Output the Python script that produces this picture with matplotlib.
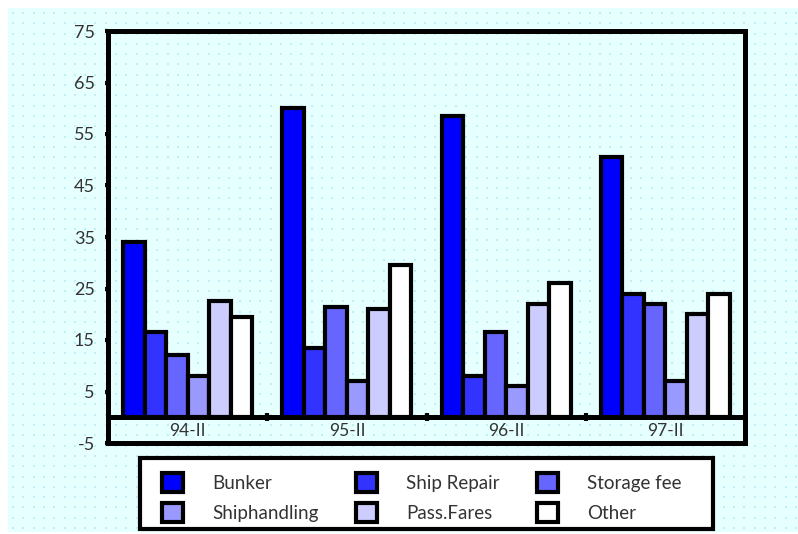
import numpy as np
import matplotlib
matplotlib.use('Agg')
import matplotlib.pyplot as plt
from matplotlib.patches import Rectangle

plt.rcParams['font.family'] = ['Lato', 'DejaVu Sans']

# half-year figures per category
periods = ['94-II', '95-II', '96-II', '97-II']
series_names = ['Bunker', 'Ship Repair', 'Storage fee', 'Shiphandling', 'Pass.Fares', 'Other']
bunker = [34, 60, 58.5, 50.5]
ship_repair = [16.5, 13.5, 8, 24]
storage_fee = [12, 21.5, 16.5, 22]
shiphandling = [8, 7, 6, 7]
pass_fares = [22.5, 21, 22, 20]
other = [19.5, 29.5, 26, 24]
y_ticks = [-5, 5, 15, 25, 35, 45, 55, 65, 75]

series = [bunker, ship_repair, storage_fee, shiphandling, pass_fares, other]
colors = ['#0000FF', '#3333FF', '#6666FF', '#9999FF', '#CCCCFF', '#FFFFFF']
text_color = '#333333'
W, H = 798, 534

fig = plt.figure(figsize=(W / 100, H / 100), dpi=100)
fig.patch.set_facecolor('white')

# dotted cyan backdrop
bg = fig.add_axes([8 / W, 2 / H, 790 / W, 524 / H], zorder=-5)
bg.set_facecolor('#E6FFFF')
bg.set_xlim(0, 790)
bg.set_ylim(0, 524)
gx, gy = np.meshgrid(np.arange(5, 790, 10.3), np.arange(4, 524, 10.3))
bg.scatter(gx.ravel(), gy.ravel(), s=1.3, marker='s', color='#BDEFF5', linewidths=0)
bg.set_xticks([])
bg.set_yticks([])
for sp in bg.spines.values():
    sp.set_visible(False)

ax = fig.add_axes([108 / W, 1 - 443 / H, 637 / W, 412 / H])
ax.set_facecolor('none')

x = np.arange(len(periods))
width = 0.135
bars = []
for i, (vals, name, col) in enumerate(zip(series, series_names, colors)):
    b = ax.bar(x + (i - 2.5) * width, vals, width, color=col, edgecolor='black',
               linewidth=3, label=name, zorder=3)
    bars.append(b)

ax.set_xlim(-0.5, len(periods) - 0.5)
ax.set_ylim(-5, 75)
ax.set_yticks(y_ticks)
ax.set_yticklabels([str(v) for v in y_ticks], fontsize=13, color=text_color)
ax.tick_params(axis='y', length=2.5, width=3, pad=7, color='black')
ax.set_xticks([])
for sp in ax.spines.values():
    sp.set_linewidth(3.6)
    sp.set_color('black')

# baseline with category band underneath
ax.axhline(0, color='black', linewidth=3.6, zorder=4)
ax.plot(x[1:] - 0.5, np.zeros(len(periods) - 1), linestyle='none', marker='|',
        markersize=6, markeredgewidth=3, color='black', zorder=5)
for xi, lab in zip(x, periods):
    ax.text(xi, -2.6, lab, ha='center', va='center', fontsize=12.5, color=text_color)

# legend box
fig.patches.append(Rectangle((140 / W, 1 - 529 / H), 573 / W, 71 / H,
                             transform=fig.transFigure, facecolor='white',
                             edgecolor='black', linewidth=3, zorder=4))
order = [0, 3, 1, 4, 2, 5]
leg = fig.legend([bars[k] for k in order], [series_names[k] for k in order],
                 ncol=3, loc='upper left', bbox_to_anchor=(162 / W, 1 - 473 / H),
                 fontsize=13.5, frameon=False, handlelength=1.12,
                 handleheight=1.17, handletextpad=1.55, labelspacing=0.62,
                 columnspacing=2.0, borderpad=0, borderaxespad=0)
leg.set_zorder(5)
for t in leg.get_texts():
    t.set_color(text_color)

fig.savefig('out.png', dpi=100)
